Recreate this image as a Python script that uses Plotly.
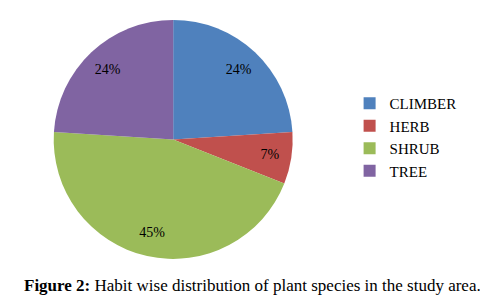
import plotly.graph_objects as go

categories = ["CLIMBER", "HERB", "SHRUB", "TREE"]
values = [24, 7, 45, 24]
colors = ["#4F81BD", "#C0504D", "#9BBB59", "#8064A2"]
caption_bold = "Figure 2:"
caption_text = "Habit wise distribution of plant species in the study area."

pie_domain = dict(x=[0.093, 0.584], y=[0.180, 0.961])

fig = go.Figure()
# coloured slices
fig.add_trace(go.Pie(
    labels=categories,
    values=values,
    sort=False,
    direction="clockwise",
    rotation=0,
    marker=dict(colors=colors, line=dict(width=0)),
    textinfo="none",
    domain=pie_domain,
    hoverinfo="label+percent",
))
# percentage labels placed in an outer ring
fig.add_trace(go.Pie(
    labels=categories,
    values=values,
    sort=False,
    direction="clockwise",
    rotation=0,
    hole=0.6,
    marker=dict(colors=["rgba(0,0,0,0)"] * len(categories), line=dict(width=0)),
    texttemplate="%{percent:.0%}",
    textposition="inside",
    insidetextorientation="horizontal",
    textfont=dict(family="Liberation Serif", size=14, color="black"),
    domain=pie_domain,
    showlegend=False,
    hoverinfo="skip",
))

fig.update_layout(
    width=488, height=306,
    margin=dict(l=0, r=0, t=0, b=0),
    paper_bgcolor="white",
    plot_bgcolor="white",
    showlegend=True,
    legend=dict(
        x=0.70, y=(306 - 129) / 306, xanchor="left", yanchor="middle",
        font=dict(family="Liberation Serif", size=15, color="black"),
        itemsizing="constant",
    ),
    annotations=[dict(
        text="<b>" + caption_bold + "</b> " + caption_text,
        x=0.5, y=(306 - 277) / 306, xref="paper", yref="paper",
        xanchor="center", yanchor="middle", showarrow=False,
        font=dict(family="Liberation Serif", size=17, color="black"),
    )],
)

fig.write_html("out.html")
